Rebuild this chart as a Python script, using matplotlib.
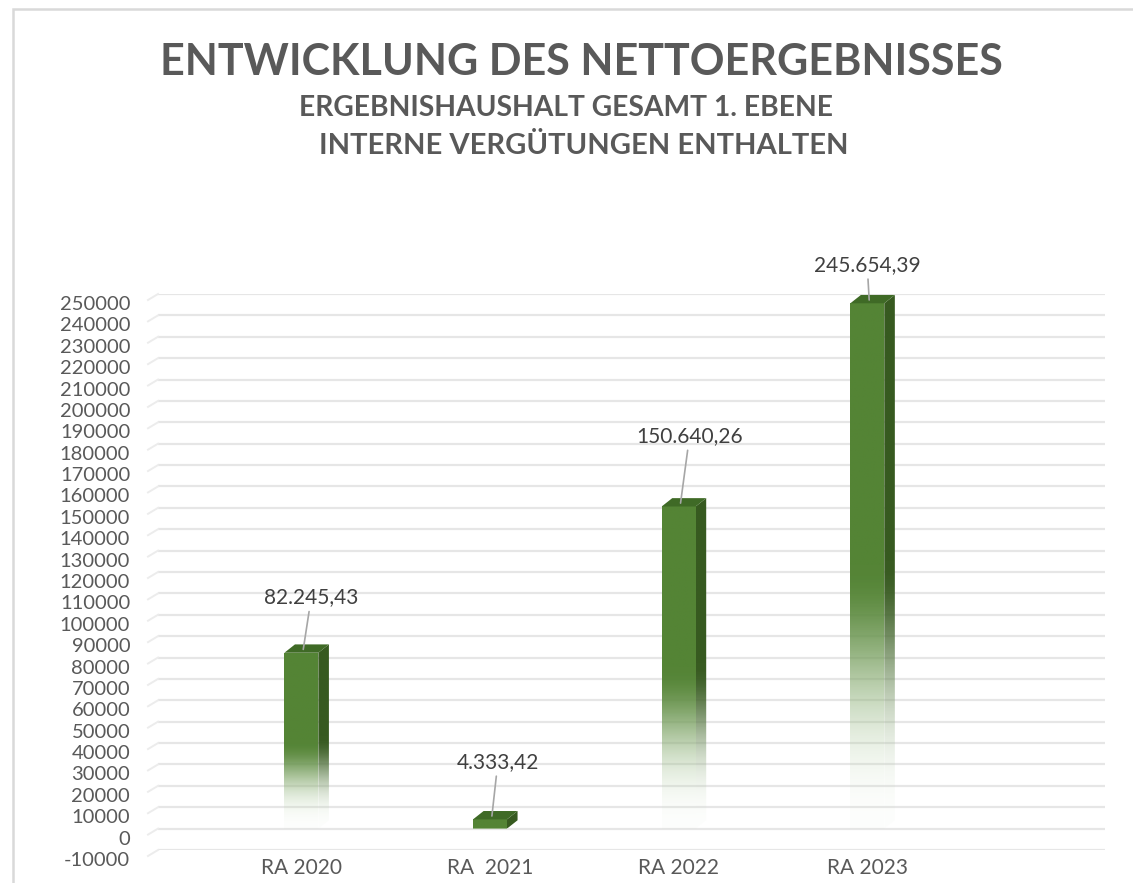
import numpy as np
import matplotlib
matplotlib.use("Agg")
import matplotlib.pyplot as plt
from matplotlib.patches import Polygon, Rectangle
from matplotlib.transforms import ScaledTranslation

categories = ["RA 2020", "RA  2021", "RA 2022", "RA 2023"]
values = [82245.43, 4333.42, 150640.26, 245654.39]
value_labels = ["82.245,43", "4.333,42", "150.640,26", "245.654,39"]
yticks = list(range(-10000, 260000, 10000))

title = "ENTWICKLUNG DES NETTOERGEBNISSES"
subtitle1 = "ERGEBNISHAUSHALT GESAMT 1. EBENE"
subtitle2 = "INTERNE VERGÜTUNGEN ENTHALTEN"

W, H = 1133, 883
fig = plt.figure(figsize=(W / 100, H / 100), dpi=100)
fig.patch.set_facecolor("white")

# outer chart border
fig.add_artist(Rectangle((13 / W, -0.05), 1.2, 1 - 9 / H + 0.05, transform=fig.transFigure,
                         fill=False, edgecolor="#d9d9d9", linewidth=1.8))

left, right = 158 / W, 1105 / W
bottom, top = (H - 850) / H, (H - 294) / H
ax = fig.add_axes([left, bottom, right - left, top - bottom])
ax.set_xlim(-0.76, 4.26)
ax.set_ylim(-10000, 250000)
for s in ax.spines.values():
    s.set_visible(False)
ax.set_facecolor("none")

# gridlines with a small slanted start (3D back wall look)
px_x = (4.26 + 0.76) / (right - left) / W
for yv in yticks:
    ax.plot([-0.76, 4.26], [yv, yv], color="#e6e6e6", lw=1.6, zorder=0, solid_capstyle="butt")
    ax.plot([-0.76 - 10 * px_x, -0.76], [yv - 2800, yv], color="#ececec", lw=1.4, zorder=0,
            clip_on=False)

ax.set_yticks(yticks)
ax.set_yticklabels([str(v) for v in yticks])
ax.tick_params(axis="y", length=0, pad=20, labelsize=14.5, labelcolor="#595959")
ax.set_xticks(range(len(categories)))
ax.set_xticklabels(categories)
ax.tick_params(axis="x", length=0, pad=6, labelsize=15, labelcolor="#595959")
for lab in ax.get_yticklabels() + ax.get_xticklabels():
    lab.set_fontfamily("Lato")
off = ScaledTranslation(0, -9 / 100, fig.dpi_scale_trans)
for t in ax.yaxis.get_major_ticks():
    t.label1.set_transform(t.label1.get_transform() + off)

front_col = np.array([0x54, 0x84, 0x35]) / 255
side_col = np.array([0x37, 0x5a, 0x20]) / 255
top_col = "#3f6a26"
bw = 0.18
dx = 0.056
dy = 3900

def grad_img(col, n=256, fade=0.4):
    t = np.linspace(0, 1, n)[:, None]  # 0 bottom, 1 top
    s = np.clip(t / fade, 0, 1)
    a = s * s * (3 - 2 * s)  # smoothstep
    alpha = 0.04 + 0.96 * a
    mix = a[..., None]
    rgb = col[None, None, :] * mix + np.array([0.80, 0.88, 0.76])[None, None, :] * (1 - mix)
    img = np.concatenate([rgb, alpha[..., None]], axis=2)
    return img[::-1]

for i, v in enumerate(values):
    x0 = i - bw / 2
    x1 = i + bw / 2
    fade = 0.5 if v > 20000 else 0.05
    # side face (parallelogram, clipped gradient)
    side = Polygon([[x1, 0], [x1 + dx, dy], [x1 + dx, v + dy], [x1, v]], closed=True,
                   facecolor="none", edgecolor="none", zorder=2)
    ax.add_patch(side)
    im = ax.imshow(grad_img(side_col, fade=fade), extent=[x1, x1 + dx, 0, v + dy], aspect="auto",
                   zorder=2, interpolation="bilinear")
    im.set_clip_path(side)
    # front face
    ax.imshow(grad_img(front_col, fade=fade), extent=[x0, x1, 0, v], aspect="auto", zorder=3,
              interpolation="bilinear")
    # top face
    ax.add_patch(Polygon([[x0, v], [x1, v], [x1 + dx, v + dy], [x0 + dx, v + dy]], closed=True,
                         facecolor=top_col, edgecolor="none", zorder=4))

# restore limits after imshow
ax.set_xlim(-0.76, 4.26)
ax.set_ylim(-10000, 250000)

label_offsets = [(8, 42), (6, 44), (9, 57), (-2, 25)]
for i, (v, txt) in enumerate(zip(values, value_labels)):
    ox, oy = label_offsets[i]
    ax.annotate(txt, xy=(i + 0.01, v + dy * 0.4), xytext=(ox, oy), textcoords="offset pixels",
                ha="center", va="bottom", fontsize=15, color="#404040", family="Lato",
                arrowprops=dict(arrowstyle="-", color="#a6a6a6", lw=1.2, shrinkA=1, shrinkB=0),
                zorder=6, annotation_clip=False)

fig.text(581 / W, 1 - 62 / H, title, ha="center", va="center", fontsize=31, fontweight="bold",
         color="#595959", family="Lato")
fig.text(566 / W, 1 - 108 / H, subtitle1, ha="center", va="center", fontsize=20.3,
         fontweight="bold", color="#595959", family="Lato")
fig.text(584 / W, 1 - 146 / H, subtitle2, ha="center", va="center", fontsize=21,
         fontweight="bold", color="#595959", family="Lato")

fig.savefig("out.png", dpi=100, facecolor="white")
